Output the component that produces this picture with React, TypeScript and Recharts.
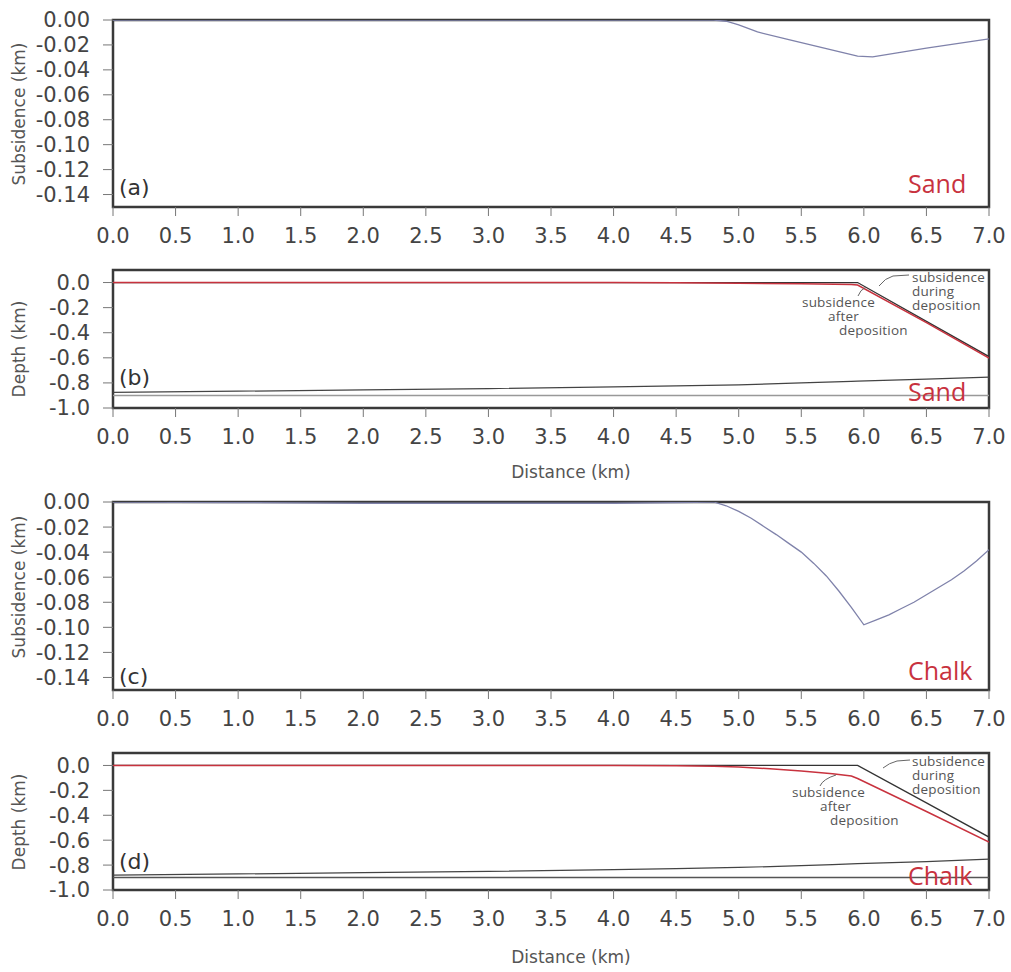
import React from "react";
import { LineChart, Line, XAxis, YAxis, ReferenceArea, ReferenceLine } from "recharts";

const xTicks = [0, 0.5, 1, 1.5, 2, 2.5, 3, 3.5, 4, 4.5, 5, 5.5, 6, 6.5, 7];
const subTicks = [0, -0.02, -0.04, -0.06, -0.08, -0.1, -0.12, -0.14];
const depthTicks = [0, -0.2, -0.4, -0.6, -0.8, -1.0];

// (a) sand: surface subsidence
const distA = [0, 1, 2, 3, 4, 4.5, 4.8, 4.9, 5.0, 5.15, 5.4, 5.6, 5.8, 5.95, 6.07, 6.5, 7.0];
const subA = [0, 0, 0, 0, 0, 0, 0, -0.001, -0.004, -0.0096, -0.0157, -0.0205, -0.0254, -0.029, -0.0295, -0.0226, -0.0152];

// (b) sand: depth profiles
const distB = [0, 1, 2, 3, 4, 4.5, 5, 5.5, 5.9, 5.95, 6.5, 7.0];
const duringB = [0, 0, 0, 0, 0, 0, 0, 0, 0, 0, -0.309, -0.59];
const afterB = [0, 0, 0, 0, 0, -0.002, -0.005, -0.01, -0.015, -0.02, -0.32, -0.603];
const baseB = [-0.875, -0.866, -0.856, -0.845, -0.832, -0.824, -0.815, -0.8, -0.787, -0.786, -0.77, -0.754];
const flatB = -0.9;

// (c) chalk: surface subsidence
const distC = [0, 1, 2, 3, 4, 4.5, 4.8, 4.85, 4.9, 5.0, 5.1, 5.2, 5.3, 5.4, 5.5, 5.6, 5.7, 5.8, 5.9, 6.0, 6.1, 6.2, 6.3, 6.4, 6.5, 6.6, 6.7, 6.8, 6.9, 7.0];
const subC = [0, -0.0005, -0.001, -0.001, -0.001, -0.0005, 0, -0.0015, -0.003, -0.0075, -0.013, -0.0195, -0.026, -0.033, -0.04, -0.049, -0.059, -0.071, -0.084, -0.098, -0.094, -0.09, -0.085, -0.08, -0.074, -0.068, -0.062, -0.055, -0.047, -0.038];

// (d) chalk: depth profiles
const distD = [0, 1, 2, 3, 4, 4.5, 4.8, 5.0, 5.25, 5.5, 5.75, 5.9, 5.95, 6.5, 7.0];
const duringD = [0, 0, 0, 0, 0, 0, 0, 0, 0, 0, 0, 0, 0, -0.3, -0.575];
const afterD = [0, 0, 0, 0, 0, -0.002, -0.006, -0.013, -0.026, -0.045, -0.066, -0.085, -0.105, -0.37, -0.615];
const baseD = [-0.88, -0.871, -0.861, -0.85, -0.837, -0.829, -0.823, -0.819, -0.812, -0.805, -0.797, -0.791, -0.789, -0.772, -0.752];
const flatD = -0.9;

const RED = "#c8323e";
const TICK_FONT = "DejaVu Sans";

type S = { key: string; color: string; width: number };

function Panel(props: {
  top: number;
  plotH: number;
  data: any[];
  domain: [number, number];
  ticks: number[];
  digits: number;
  series: S[];
  flat?: number;
  flatColor?: string;
}) {
  const { top, plotH, data, domain, ticks, digits, series, flat, flatColor } = props;
  const bottomH = 40;
  const mt = 20;
  return (
    <div style={{ position: "absolute", left: 0, top: top - mt }}>
      <LineChart
        width={1011}
        height={mt + plotH + bottomH}
        data={data}
        margin={{ top: mt, right: 22, left: 0, bottom: 0 }}
      >
        <XAxis
          dataKey="d"
          type="number"
          domain={[0, 7]}
          ticks={xTicks}
          interval={0}
          allowDataOverflow
          height={bottomH}
          axisLine={false}
          tickSize={9}
          tickMargin={12}
          tickLine={{ stroke: "#777" }}
          tick={{ fontSize: 21, fill: "#444", fontFamily: TICK_FONT }}
          tickFormatter={(v: number) => v.toFixed(1)}
        />
        <YAxis
          type="number"
          domain={domain}
          ticks={ticks}
          interval={0}
          allowDataOverflow
          width={113}
          axisLine={false}
          tickSize={10}
          tickMargin={13}
          tickLine={{ stroke: "#777" }}
          tick={{ fontSize: 21, fill: "#444", fontFamily: TICK_FONT }}
          tickFormatter={(v: number) => v.toFixed(digits)}
        />
        {flat !== undefined && (
          <ReferenceLine y={flat} stroke={flatColor} strokeWidth={1.6} />
        )}
        {series.map((s) => (
          <Line
            key={s.key}
            dataKey={s.key}
            type="linear"
            stroke={s.color}
            strokeWidth={s.width}
            dot={false}
            isAnimationActive={false}
          />
        ))}
        <ReferenceArea
          x1={0}
          x2={7}
          y1={domain[0]}
          y2={domain[1]}
          fill="none"
          fillOpacity={0}
          stroke="#3a3a3a"
          strokeWidth={2.5}
        />
      </LineChart>
    </div>
  );
}

const ann = { fontFamily: "Open Sans", fontSize: 13.5, fill: "#555", letterSpacing: 0.2 };
const title = { fontFamily: TICK_FONT, fontSize: 17, fill: "#555" };
const tag = { fontFamily: TICK_FONT, fontSize: 22, fill: "#333" };
const mat = { fontFamily: "Open Sans", fontSize: 25, fill: RED };

export default function App() {
  const dataA = distA.map((d, i) => ({ d, sub: subA[i] }));
  const dataB = distB.map((d, i) => ({ d, base: baseB[i], during: duringB[i], after: afterB[i] }));
  const dataC = distC.map((d, i) => ({ d, sub: subC[i] }));
  const dataD = distD.map((d, i) => ({ d, base: baseD[i], during: duringD[i], after: afterD[i] }));

  const subSeries = [{ key: "sub", color: "#7f82aa", width: 1.3 }];
  const depthSeries = [
    { key: "base", color: "#444", width: 1.2 },
    { key: "during", color: "#333", width: 1.3 },
    { key: "after", color: RED, width: 1.5 },
  ];

  return (
    <div style={{ position: "absolute", left: 0, top: 0, width: 1011, height: 972, background: "#fff" }}>
      <Panel top={20} plotH={187} data={dataA} domain={[-0.15, 0]} ticks={subTicks} digits={2} series={subSeries} />
      <Panel top={270} plotH={138} data={dataB} domain={[-1, 0.1]} ticks={depthTicks} digits={1} series={depthSeries} flat={flatB} flatColor="#999" />
      <Panel top={502} plotH={188} data={dataC} domain={[-0.15, 0]} ticks={subTicks} digits={2} series={subSeries} />
      <Panel top={753} plotH={137} data={dataD} domain={[-1, 0.1]} ticks={depthTicks} digits={1} series={depthSeries} flat={flatD} flatColor="#555" />

      <svg width={1011} height={972} style={{ position: "absolute", left: 0, top: 0, pointerEvents: "none" }}>
        <text {...title} textAnchor="middle" transform="rotate(-90 25 114)" x={25} y={114}>Subsidence (km)</text>
        <text {...title} textAnchor="middle" transform="rotate(-90 25 349)" x={25} y={349}>Depth (km)</text>
        <text {...title} textAnchor="middle" transform="rotate(-90 25 587)" x={25} y={587}>Subsidence (km)</text>
        <text {...title} textAnchor="middle" transform="rotate(-90 25 822)" x={25} y={822}>Depth (km)</text>
        <text {...title} textAnchor="middle" x={571} y={478}>Distance (km)</text>
        <text {...title} textAnchor="middle" x={571} y={963}>Distance (km)</text>

        <text {...tag} x={119} y={195}>(a)</text>
        <text {...tag} x={119} y={385}>(b)</text>
        <text {...tag} x={119} y={684}>(c)</text>
        <text {...tag} x={119} y={869}>(d)</text>

        <text {...mat} x={908} y={193}>Sand</text>
        <text {...mat} x={908} y={401}>Sand</text>
        <text {...mat} x={908} y={680}>Chalk</text>
        <text {...mat} x={908} y={885}>Chalk</text>

        <text {...ann} x={912} y={282}>subsidence</text>
        <text {...ann} x={912} y={296}>during</text>
        <text {...ann} x={912} y={310}>deposition</text>
        <path d="M 909 275 L 893 276 Q 885 278 879 286" fill="none" stroke="#666" strokeWidth={1} />
        <text {...ann} x={802} y={307}>subsidence</text>
        <text {...ann} x={828} y={321}>after</text>
        <text {...ann} x={839} y={335}>deposition</text>
        <path d="M 858 296 Q 860 290 866 287" fill="none" stroke="#666" strokeWidth={1} />

        <text {...ann} x={912} y={766}>subsidence</text>
        <text {...ann} x={912} y={780}>during</text>
        <text {...ann} x={912} y={794}>deposition</text>
        <path d="M 910 760 L 897 761 Q 889 763 883 768" fill="none" stroke="#666" strokeWidth={1} />
        <text {...ann} x={792} y={797}>subsidence</text>
        <text {...ann} x={820} y={811}>after</text>
        <text {...ann} x={830} y={825}>deposition</text>
        <path d="M 820 786 Q 823 779 836 775" fill="none" stroke="#666" strokeWidth={1} />
      </svg>
    </div>
  );
}
